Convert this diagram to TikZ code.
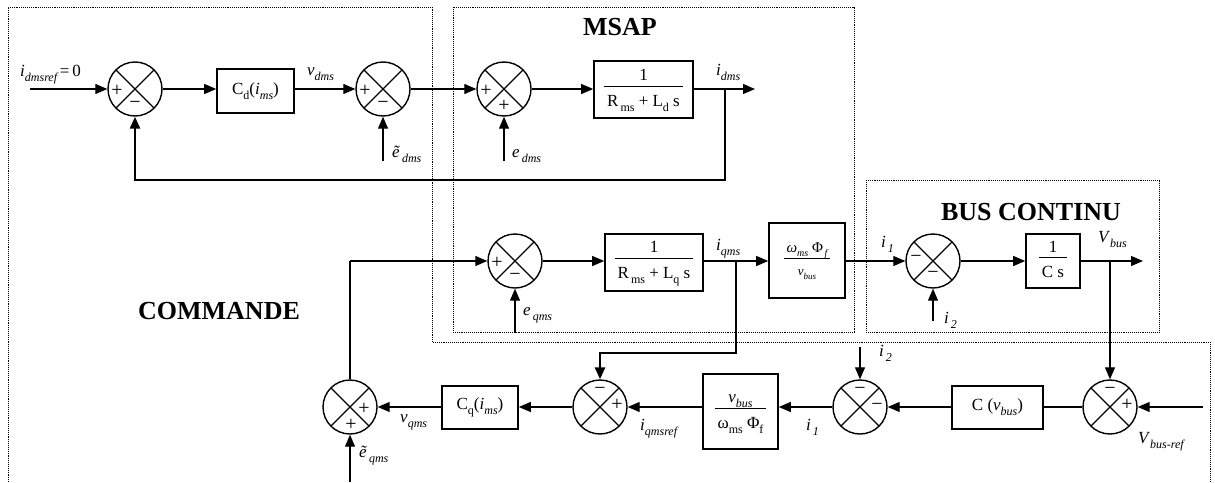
\documentclass[tikz,border=0pt]{standalone}
\usepackage{fontspec}
\setmainfont{Liberation Serif}
\usetikzlibrary{arrows.meta,calc}
\newcommand\sbi[1]{\raisebox{-0.3em}{\fontsize{12}{12}\selectfont\itshape #1}}
\newcommand\sbr[1]{\raisebox{-0.3em}{\fontsize{12}{12}\selectfont\upshape #1}}
\newcommand\fr[2]{{\setlength\arrayrulewidth{0.9pt}\begin{tabular}{@{\hspace{3pt}}c@{\hspace{3pt}}}#1\\[-1pt]\hline\rule{0pt}{1.15em}#2\end{tabular}}}
\begin{document}
\begin{tikzpicture}[x=1pt,y=-1pt,
  font=\fontsize{17}{20}\selectfont,
  arr/.style={-{Triangle[length=12pt,width=10pt]}},
  con/.style={line width=1.2pt},
  fbk/.style={line width=2.6pt},
  mid/.style={line width=2pt},
  sumnode/.style={circle,draw,line width=1.4pt,minimum size=54pt,inner sep=0pt,
     path picture={\draw[line width=1.2pt,shift={(path picture bounding box.center)}] (45:27) -- (225:27) (135:27) -- (315:27);}},
  blk/.style={draw,line width=1.6pt,inner sep=0pt,align=center},
  sgn/.style={font=\fontsize{20}{20}\selectfont,inner sep=0pt},
  lbl/.style={anchor=base west,inner sep=0pt},
  zone/.style={densely dotted,line width=0.9pt},
  ttl/.style={font=\fontsize{26}{30}\selectfont\bfseries}]
\useasboundingbox (0,0) rectangle (1215,482);

% zones
\draw[zone] (8,482) -- (8,7) -- (432,7) -- (432,342) -- (1210,342) -- (1210,482);
\draw[zone] (453,7) rectangle (854,332);
\draw[zone] (866,180) rectangle (1159,332);

% titles
\node[ttl] (tm) at (620,27) {MSAP};
\node[ttl] (tb) at (1031,212) {BUS CONTINU};
\node[ttl] (tc) at (219,311) {COMMANDE};

% summing junctions
\node[sumnode] (s1) at (135,89) {};
\node[sumnode] (s2) at (383,89) {};
\node[sumnode] (s3) at (504,89) {};
\node[sumnode] (s4) at (515,261) {};
\node[sumnode] (s7) at (933,261) {};
\node[sumnode] (s10) at (1110,407) {};
\node[sumnode] (s9) at (860,407) {};
\node[sumnode] (s6) at (600,407) {};
\node[sumnode] (s5) at (350,407) {};

% signs
\node[sgn] at ($(s1)+(-18,2)$) {+};
\node[sgn] at ($(s1)+(0,16)$) {−};
\node[sgn] at ($(s2)+(-18,2)$) {+};
\node[sgn] at ($(s2)+(0,16)$) {−};
\node[sgn] at ($(s3)+(-18,2)$) {+};
\node[sgn] at ($(s3)+(0,17)$) {+};
\node[sgn] at ($(s4)+(-18,2)$) {+};
\node[sgn] at ($(s4)+(0,16)$) {−};
\node[sgn] at ($(s7)+(-17,-2)$) {−};
\node[sgn] at ($(s7)+(0,14)$) {−};
\node[sgn] at ($(s10)+(0,-16)$) {−};
\node[sgn] at ($(s10)+(17,-2)$) {+};
\node[sgn] at ($(s9)+(0,-16)$) {−};
\node[sgn] at ($(s9)+(17,0)$) {−};
\node[sgn] at ($(s6)+(0,-16)$) {−};
\node[sgn] at ($(s6)+(17,-2)$) {+};
\node[sgn] at ($(s5)+(14,2)$) {+};
\node[sgn] at ($(s5)+(1,18)$) {+};

% blocks
\node[blk,minimum width=77pt,minimum height=44pt] (Cd) at (255.5,91) {C\sbr{d}(\textit{i}\sbi{ms})};
\node[blk,minimum width=99pt,minimum height=57pt] (Gd) at (643.5,89.5) {\fr{1}{R\sbr{\,ms} + L\sbr{d} s}};
\node[blk,minimum width=98pt,minimum height=57pt] (Gq) at (654,262.5) {\fr{1}{R\sbr{\,ms} + L\sbr{q} s}};
\node[blk,minimum width=76pt,minimum height=75pt,font=\fontsize{15}{17}\selectfont] (Gw) at (807,260.5)
  {\fr{\textit{ω}\raisebox{-0.3em}{\fontsize{10}{10}\selectfont\itshape ms} Φ\raisebox{-0.3em}{\fontsize{10}{10}\selectfont\itshape \,f}}{\fontsize{13}{13}\selectfont\itshape v\raisebox{-0.3em}{\fontsize{9}{9}\selectfont bus}}};
\node[blk,minimum width=54pt,minimum height=54pt] (Gc) at (1053,261) {\fr{1}{C s}};
\node[blk,minimum width=91pt,minimum height=43pt] (Cv) at (997.5,407.5) {C (\textit{v}\sbi{bus})};
\node[blk,minimum width=75pt,minimum height=75pt] (Gi) at (740.5,411.5) {\fr{\textit{v}\sbi{bus}}{ω\sbr{ms} Φ\sbr{f}}};
\node[blk,minimum width=76pt,minimum height=43pt] (Cq) at (480,407.5) {C\sbr{q}(\textit{i}\sbi{ms})};

% free ends and branch points
\coordinate (in1) at (30,89);
\coordinate (out1) at (755,89);
\coordinate (b1) at (725,89);
\coordinate (fb1) at (725,180);
\coordinate (ed) at (383,161);
\coordinate (edd) at (504,161);
\coordinate (eq) at (515,333);
\coordinate (b2) at (736,261);
\coordinate (fb2) at (736,353);
\coordinate (i2a) at (933,321);
\coordinate (out2) at (1143,261);
\coordinate (b3) at (1110,261);
\coordinate (vin) at (1203,407);
\coordinate (i2b) at (860,347);
\coordinate (eqt) at (350,482);
\coordinate (c5) at (350,261);

% row 1
\draw[con,arr] (in1) -- (s1.west);
\draw[con,arr] (s1.east) -- (s1.east -| Cd.west);
\draw[con,arr] (Cd.east |- s2.west) -- (s2.west);
\draw[con,arr] (s2.east) -- (s3.west);
\draw[con,arr] (s3.east) -- (s3.east -| Gd.west);
\draw[con,arr] (Gd.east |- s3.east) -- (out1);
\draw[fbk,arr] (b1) -- (fb1) -| (s1.south);
\draw[con,arr] (ed) -- (s2.south);
\draw[con,arr] (edd) -- (s3.south);

% row 2
\draw[mid] (s5.north) -- (c5);
\draw[con,arr] (c5) -- (s4.west);
\draw[con,arr] (s4.east) -- (s4.east -| Gq.west);
\draw[con,arr] (Gq.east |- s4.east) -- (s4.east -| Gw.west);
\draw[fbk,arr] (b2) -- (fb2) -| (s6.north);
\draw[con,arr] (Gw.east |- s7.west) -- (s7.west);
\draw[con,arr] (s7.east) -- (s7.east -| Gc.west);
\draw[con,arr] (Gc.east |- s7.east) -- (out2);
\draw[con,arr] (b3) -- (s10.north);
\draw[con,arr] (i2a) -- (s7.south);
\draw[con,arr] (eq) -- (s4.south);

% row 3
\draw[con,arr] (vin) -- (s10.east);
\draw[con] (s10.west) -- (s10.west -| Cv.east);
\draw[con,arr] (Cv.west |- s9.east) -- (s9.east);
\draw[con,arr] (i2b) -- (s9.north);
\draw[con,arr] (s9.west) -- (s9.west -| Gi.east);
\draw[con,arr] (Gi.west |- s6.east) -- (s6.east);
\draw[con,arr] (s6.west) -- (s6.west -| Cq.east);
\draw[con,arr] (Cq.west |- s5.east) -- (s5.east);
\draw[con,arr] (eqt) -- (s5.south);

% labels
\node[lbl] at (20,76) {\textit{i}\sbi{dmsref}\,=\,0};
\node[lbl] at (307,75) {\textit{v}\sbi{dms}};
\node[lbl] at (392,157) {\textit{\~e}\sbi{\,dms}};
\node[lbl] at (512,157) {\textit{e}\sbi{\,dms}};
\node[lbl] at (716,75) {\textit{i}\sbi{dms}};
\node[lbl] at (716,250) {\textit{i}\sbi{qms}};
\node[lbl] at (523,315) {\textit{e}\sbi{\,qms}};
\node[lbl] at (881,247) {\textit{i}\sbi{\,1}};
\node[lbl] at (944,323) {\textit{i}\sbi{\,2}};
\node[lbl] at (1098,242) {\textit{V}\sbi{bus}};
\node[lbl] at (879,356) {\textit{i}\sbi{\,2}};
\node[lbl] at (806,430) {\textit{i}\sbi{\,1}};
\node[lbl] at (1138,443) {\textit{V}\sbi{bus-ref}};
\node[lbl] at (640,430) {\textit{i}\sbi{qmsref}};
\node[lbl] at (400,422) {\textit{v}\sbi{qms}};
\node[lbl] at (359,457) {\textit{\~e}\sbi{\,qms}};
\end{tikzpicture}
\end{document}
